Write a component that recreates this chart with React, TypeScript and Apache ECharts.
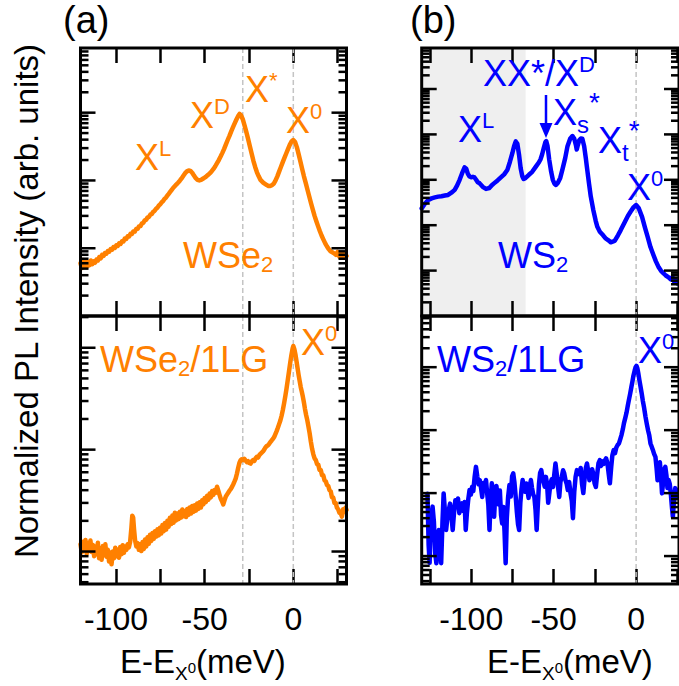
import React, { useEffect, useRef } from 'react';
import * as echarts from 'echarts';

// ---------------- data (energy relative to X0 in meV, normalized PL intensity) ----------------
const wse2Spectrum: [number, number][] = [
  [-120, 0.0060], [-119.3, 0.0051], [-118.6, 0.0067], [-117.9, 0.0054], [-117.2, 0.0064], [-116.5, 0.0053],
  [-115.8, 0.0062], [-115, 0.0056], [-114.2, 0.0066], [-113.4, 0.0058], [-112.6, 0.0064], [-111.8, 0.0061],
  [-111, 0.0068], [-110.2, 0.0066], [-109.4, 0.0074], [-108.6, 0.0071], [-107.8, 0.0080], [-107, 0.0077],
  [-106.2, 0.0085], [-105.4, 0.0083], [-104.6, 0.0091], [-103.8, 0.0089], [-103, 0.0097], [-102.2, 0.0095],
  [-101.4, 0.0104], [-100.6, 0.0101], [-99.8, 0.0110], [-99, 0.0108], [-98.2, 0.0118], [-97.4, 0.0116],
  [-96.6, 0.0127], [-95.8, 0.0126], [-95, 0.0139], [-94.2, 0.0137], [-93.4, 0.0150], [-92.6, 0.0149],
  [-91.8, 0.0163], [-91, 0.0162], [-90.2, 0.0177], [-89.4, 0.0176], [-88.6, 0.0192], [-87.8, 0.0193],
  [-87, 0.0210], [-86.2, 0.0212], [-85.4, 0.0232], [-84.6, 0.0236], [-83.8, 0.0257], [-83, 0.0262],
  [-82.2, 0.0284], [-81.4, 0.0290], [-80.6, 0.0313], [-79.8, 0.0320], [-79, 0.0345], [-78.2, 0.0356],
  [-77.4, 0.0383], [-76.6, 0.0397], [-75.8, 0.0428], [-75, 0.0445], [-74.2, 0.0478], [-73.4, 0.0498],
  [-72.6, 0.0535], [-71.8, 0.0560], [-71, 0.0602], [-70.2, 0.0635], [-69.4, 0.0683], [-68.6, 0.0722],
  [-67.8, 0.0775], [-67, 0.0815], [-66, 0.0870], [-65, 0.0925], [-64, 0.0990], [-63, 0.107], [-62, 0.117],
  [-61, 0.128], [-60, 0.136], [-59, 0.140], [-58, 0.138], [-57, 0.130], [-56, 0.118], [-55, 0.108],
  [-54, 0.102], [-53, 0.100], [-52, 0.102], [-51, 0.106], [-50, 0.110], [-49, 0.115], [-48, 0.121],
  [-47, 0.128], [-46, 0.137], [-45, 0.148], [-44, 0.162], [-43, 0.180], [-42, 0.200], [-41, 0.225],
  [-40, 0.255], [-39, 0.292], [-38, 0.340], [-37, 0.395], [-36, 0.455], [-35, 0.530], [-34, 0.610],
  [-33, 0.700], [-32, 0.800], [-31, 0.900], [-30.3, 0.96], [-29.5, 0.92], [-28.5, 0.80], [-27.5, 0.65],
  [-26.5, 0.52], [-25.5, 0.41], [-24.5, 0.32], [-23.5, 0.25], [-22.5, 0.195], [-21.5, 0.158], [-20.5, 0.132],
  [-19.5, 0.115], [-18.5, 0.102], [-17, 0.093], [-15.5, 0.087], [-14, 0.083], [-13, 0.083], [-12, 0.085],
  [-11, 0.090], [-10, 0.100], [-9, 0.115], [-8, 0.135], [-7, 0.158], [-6, 0.185], [-5, 0.215], [-4, 0.250],
  [-3, 0.290], [-2, 0.335], [-1, 0.375], [0, 0.395], [1, 0.37], [2, 0.31], [3, 0.245], [4, 0.19], [5, 0.148],
  [6, 0.115], [7, 0.092], [8, 0.073], [9, 0.058], [10, 0.046], [11, 0.037], [12, 0.030], [13, 0.025],
  [14, 0.021], [15, 0.0178], [16, 0.0153], [17, 0.0134], [18, 0.0118], [19, 0.0106], [20, 0.0097],
  [21, 0.0090], [22, 0.0087], [23, 0.0084], [24, 0.0080], [25, 0.0088], [26, 0.0075], [27, 0.0085],
  [28, 0.0073], [29, 0.0084], [30, 0.0077],
];

const wse2GrapheneSpectrum: [number, number][] = [
  [-120, 0.0118], [-119.3, 0.0098], [-118.6, 0.0125], [-117.9, 0.0103], [-117.2, 0.0130], [-116.5, 0.0095],
  [-115.8, 0.0121], [-115.1, 0.0101], [-114.4, 0.0128], [-113.7, 0.0099], [-113, 0.0116], [-112.3, 0.0090],
  [-111.6, 0.0112], [-110.9, 0.0094], [-110.2, 0.0122], [-109.5, 0.0086], [-108.8, 0.0108], [-108.1, 0.0083],
  [-107.4, 0.0113], [-106.7, 0.0092], [-106, 0.0118], [-105.3, 0.0089], [-104.6, 0.0104], [-103.9, 0.0080],
  [-103.2, 0.0098], [-102.5, 0.0075], [-101.8, 0.0100], [-101.1, 0.0086], [-100.4, 0.0109], [-99.7, 0.0090],
  [-99, 0.0104], [-98.3, 0.0087], [-97.6, 0.0111], [-96.9, 0.0094], [-96.2, 0.0115], [-95.5, 0.0097],
  [-94.8, 0.0112], [-94.1, 0.0104], [-93.4, 0.0118], [-92.7, 0.0110], [-92, 0.0125], [-91.3, 0.0170],
  [-90.8, 0.0225], [-90.3, 0.0215], [-89.8, 0.0165], [-89.2, 0.0128], [-88.5, 0.0112], [-87.8, 0.0121],
  [-87.1, 0.0104], [-86.4, 0.0118], [-85.7, 0.0101], [-85, 0.0124], [-84.3, 0.0106], [-83.6, 0.0131],
  [-82.9, 0.0112], [-82.2, 0.0138], [-81.5, 0.0119], [-80.8, 0.0146], [-80.1, 0.0127], [-79.4, 0.0152],
  [-78.7, 0.0133], [-78, 0.0158], [-77.3, 0.0140], [-76.6, 0.0165], [-75.9, 0.0144], [-75.2, 0.0171],
  [-74.5, 0.0150], [-73.8, 0.0182], [-73.1, 0.0158], [-72.4, 0.0190], [-71.7, 0.0164], [-71, 0.0200],
  [-70.3, 0.0175], [-69.6, 0.0214], [-68.9, 0.0186], [-68.2, 0.0226], [-67.5, 0.0192], [-66.8, 0.0240],
  [-66.1, 0.0202], [-65.4, 0.0236], [-64.7, 0.0208], [-64, 0.0245], [-63.3, 0.0215], [-62.6, 0.0258],
  [-61.9, 0.0222], [-61.2, 0.0250], [-60.5, 0.0218], [-59.8, 0.0262], [-59.1, 0.0229], [-58.4, 0.0271],
  [-57.7, 0.0236], [-57, 0.0280], [-56.3, 0.0245], [-55.6, 0.0284], [-54.9, 0.0252], [-54.2, 0.0296],
  [-53.5, 0.0262], [-52.8, 0.0305], [-52.1, 0.0270], [-51.4, 0.0318], [-50.7, 0.0290], [-50, 0.0335],
  [-49.3, 0.0305], [-48.6, 0.0352], [-47.9, 0.0322], [-47.2, 0.0370], [-46.5, 0.0340], [-45.8, 0.0392],
  [-45.1, 0.0360], [-44.4, 0.0402], [-43.7, 0.0378], [-43, 0.0432], [-42.3, 0.0395], [-41.6, 0.0360],
  [-40.9, 0.0330], [-40.2, 0.0312], [-39.5, 0.0290], [-38.8, 0.0318], [-38.1, 0.0345], [-37.4, 0.0362],
  [-36.7, 0.0378], [-36, 0.0395], [-35.3, 0.0410], [-34.6, 0.0430], [-33.9, 0.0455], [-33.2, 0.0485],
  [-32.5, 0.0520], [-31.8, 0.0580], [-31.1, 0.0660], [-30.4, 0.0740], [-29.7, 0.0790], [-29, 0.0805],
  [-28.3, 0.0790], [-27.6, 0.0812], [-26.9, 0.0780], [-26.2, 0.0755], [-25.5, 0.0770], [-24.8, 0.0740],
  [-24.1, 0.0730], [-23.4, 0.0768], [-22.7, 0.0790], [-22, 0.0775], [-21.3, 0.0820], [-20.6, 0.0850],
  [-19.9, 0.0835], [-19.2, 0.0880], [-18.5, 0.0910], [-17.8, 0.0935], [-17.1, 0.0960], [-16.4, 0.1000],
  [-15.7, 0.1050], [-15, 0.1085], [-14.3, 0.1100], [-13.6, 0.1140], [-12.9, 0.1190], [-12.2, 0.1230],
  [-11.5, 0.1275], [-10.8, 0.1330], [-10.1, 0.1420], [-9.4, 0.1520], [-8.7, 0.1640], [-8, 0.1780],
  [-7.3, 0.1930], [-6.6, 0.2150], [-5.9, 0.2450], [-5.2, 0.2850], [-4.5, 0.3350], [-3.8, 0.4000],
  [-3.1, 0.4850], [-2.4, 0.5900], [-1.7, 0.7200], [-1, 0.8600], [-0.4, 0.9800], [0, 1.04], [0.6, 0.97],
  [1.2, 0.86], [1.8, 0.74], [2.4, 0.63], [3, 0.54], [3.6, 0.47], [4.2, 0.41], [4.8, 0.37], [5.4, 0.33],
  [6, 0.29], [6.6, 0.25], [7.2, 0.22], [7.9, 0.194], [8.5, 0.17], [9.2, 0.145], [9.9, 0.120], [10.6, 0.102],
  [11.3, 0.090], [12, 0.082], [12.7, 0.079], [13.4, 0.072], [14.1, 0.071], [14.8, 0.063], [15.5, 0.063],
  [16.2, 0.056], [16.9, 0.056], [17.6, 0.050], [18.3, 0.049], [19, 0.045], [19.7, 0.044], [20.4, 0.040],
  [21.1, 0.039], [21.8, 0.034], [22.5, 0.034], [23.2, 0.030], [23.9, 0.030], [24.6, 0.027], [25.3, 0.026],
  [26, 0.024], [26.7, 0.024], [27.4, 0.022], [28.1, 0.026], [28.8, 0.0245], [29.5, 0.027], [30, 0.0255],
];

const ws2Spectrum: [number, number][] = [
  [-130, 0.0235], [-128, 0.030], [-126, 0.036], [-124, 0.039], [-122, 0.041], [-120, 0.0426], [-118, 0.0435],
  [-116, 0.045], [-114, 0.0464], [-112, 0.052], [-110, 0.060], [-108.5, 0.075], [-107, 0.100], [-105.5, 0.14],
  [-104, 0.188], [-103, 0.175], [-102, 0.135], [-101, 0.118], [-100, 0.114], [-99, 0.116], [-98, 0.1125],
  [-97, 0.100], [-96, 0.088], [-95, 0.0845], [-93, 0.070], [-91, 0.063], [-89, 0.066], [-87.5, 0.076],
  [-86, 0.0845], [-84, 0.097], [-82, 0.113], [-80, 0.132], [-78, 0.167], [-76.5, 0.25], [-75, 0.39],
  [-74, 0.55], [-73, 0.70], [-72, 0.62], [-71, 0.36], [-70, 0.18], [-69, 0.12], [-68.2, 0.104], [-67, 0.11],
  [-65, 0.129], [-63, 0.15], [-61, 0.19], [-59, 0.24], [-58, 0.28], [-57, 0.36], [-56, 0.50], [-55, 0.68],
  [-54.5, 0.71], [-53.7, 0.55], [-52.7, 0.28], [-51.5, 0.15], [-50.5, 0.10], [-49.5, 0.082], [-48.6, 0.077],
  [-47.5, 0.085], [-46, 0.11], [-44.7, 0.167], [-43, 0.30], [-41.6, 0.55], [-40, 0.80], [-38.6, 0.92],
  [-37.5, 0.80], [-36.5, 0.58], [-36, 0.464], [-35.5, 0.55], [-34.5, 0.74], [-33.5, 0.81], [-32.6, 0.80],
  [-31.5, 0.55], [-30.5, 0.30], [-29.9, 0.198], [-28.5, 0.08], [-27.5, 0.043], [-26, 0.022], [-24.5, 0.0125],
  [-23.5, 0.0092], [-22, 0.0072], [-20, 0.006], [-18.5, 0.0051], [-17, 0.0047], [-15.4, 0.0042], [-13, 0.0045],
  [-11, 0.0060], [-9.4, 0.0077], [-7, 0.0115], [-5, 0.016], [-3.4, 0.0198], [-1.5, 0.025], [0, 0.0278],
  [1.5, 0.024], [3.6, 0.0153], [5.5, 0.0085], [7, 0.0055], [8.7, 0.0033], [10.5, 0.0022], [12, 0.0016],
  [13.7, 0.00118], [15, 0.0010], [16.5, 0.00088], [18, 0.00078], [19.7, 0.00071], [21, 0.00064],
  [22, 0.00072], [23, 0.00058], [24, 0.00062], [25, 0.00052], [26, 0.00056],
];

const ws2GrapheneSpectrum: [number, number][] = [
  [-126.5, 0.0098], [-125.8, 0.0015], [-125.2, 0.00078], [-124.5, 0.0036], [-123.4, 0.0061], [-122.6, 0.0035],
  [-121.8, 0.0011], [-121.1, 0.00077], [-120.4, 0.0018], [-119.6, 0.0026], [-118.9, 0.0015], [-118.2, 0.00077],
  [-117.4, 0.0035], [-116.7, 0.0099], [-116, 0.0056], [-115.2, 0.0026], [-114.4, 0.0041], [-113.6, 0.0054],
  [-112.8, 0.0068], [-112, 0.0045], [-111.2, 0.0026], [-110.4, 0.0049], [-109.6, 0.0077], [-108.8, 0.0062],
  [-108, 0.0082], [-107.2, 0.0048], [-106.4, 0.0061], [-105.6, 0.0069], [-104.8, 0.0052], [-104, 0.0072],
  [-103.3, 0.0026], [-102.6, 0.0048], [-101.8, 0.0078], [-101, 0.0112], [-100.2, 0.0095], [-99.4, 0.0126],
  [-98.7, 0.0108], [-97.9, 0.0182], [-97.1, 0.0261], [-96.3, 0.0185], [-95.5, 0.0138], [-94.8, 0.0161],
  [-94, 0.0120], [-93.3, 0.0087], [-92.6, 0.0145], [-91.8, 0.0118], [-91, 0.0161], [-90.3, 0.0098],
  [-89.6, 0.0065], [-88.9, 0.0026], [-88.2, 0.0082], [-87.5, 0.0143], [-86.8, 0.0110], [-86.1, 0.0042],
  [-85.4, 0.0098], [-84.7, 0.0130], [-84, 0.0087], [-83.3, 0.0066], [-82.6, 0.0110], [-81.9, 0.0045],
  [-81.2, 0.0033], [-80.5, 0.0060], [-79.8, 0.0025], [-79.1, 0.00077], [-78.4, 0.0040], [-77.6, 0.0087],
  [-76.8, 0.0134], [-76, 0.0088], [-75.2, 0.0185], [-74.5, 0.0206], [-73.8, 0.0150], [-73, 0.0087],
  [-72.3, 0.0050], [-71.6, 0.0032], [-70.9, 0.0026], [-70.2, 0.0070], [-69.5, 0.0115], [-68.8, 0.0161],
  [-68.1, 0.0126], [-67.4, 0.0105], [-66.6, 0.0142], [-65.9, 0.0112], [-65.2, 0.0084], [-64.5, 0.0130],
  [-63.8, 0.0161], [-63.1, 0.0120], [-62.4, 0.0095], [-61.7, 0.0087], [-61, 0.0055], [-60.3, 0.0026],
  [-59.6, 0.0064], [-58.9, 0.0140], [-58.2, 0.0210], [-57.5, 0.0232], [-56.8, 0.0175], [-56.1, 0.0150],
  [-55.4, 0.0126], [-54.7, 0.0181], [-54, 0.0140], [-53.3, 0.0070], [-52.6, 0.0100], [-51.9, 0.0143],
  [-51.2, 0.0165], [-50.4, 0.0125], [-49.6, 0.0200], [-48.9, 0.0296], [-48.2, 0.0210], [-47.4, 0.0130],
  [-46.6, 0.0087], [-45.9, 0.0150], [-45.1, 0.0180], [-44.3, 0.0230], [-43.6, 0.0206], [-42.8, 0.0160],
  [-42.1, 0.0140], [-41.4, 0.0112], [-40.6, 0.0150], [-39.8, 0.0100], [-39, 0.0075], [-38.3, 0.0040],
  [-37.5, 0.0105], [-36.7, 0.0181], [-35.9, 0.0232], [-35.2, 0.0205], [-34.4, 0.0200], [-33.6, 0.0250],
  [-32.8, 0.0140], [-32, 0.0100], [-31.2, 0.0175], [-30.5, 0.0250], [-29.8, 0.0296], [-29, 0.0220],
  [-28.3, 0.0160], [-27.5, 0.0181], [-26.7, 0.0240], [-25.9, 0.0200], [-25.2, 0.0143], [-24.4, 0.0125],
  [-23.6, 0.0200], [-22.8, 0.0300], [-22, 0.0334], [-21.3, 0.0270], [-20.5, 0.0320], [-19.7, 0.0290],
  [-18.9, 0.0330], [-18.2, 0.0356], [-17.4, 0.0300], [-16.6, 0.0200], [-15.9, 0.0143], [-15.1, 0.0260],
  [-14.4, 0.0400], [-13.6, 0.0482], [-12.8, 0.0430], [-12, 0.0530], [-11.2, 0.0580], [-10.4, 0.0615],
  [-9.6, 0.0720], [-8.8, 0.0850], [-8, 0.1050], [-7.4, 0.128], [-6.6, 0.155], [-5.8, 0.190], [-5.1, 0.240],
  [-4.4, 0.299], [-3.6, 0.380], [-2.9, 0.480], [-2.2, 0.600], [-1.6, 0.740], [-0.9, 0.880], [-0.3, 1.00],
  [0.2, 1.05], [0.8, 0.95], [1.4, 0.78], [2, 0.62], [2.7, 0.487], [3.4, 0.38], [4.1, 0.29], [4.8, 0.230],
  [5.7, 0.163], [6.5, 0.125], [7.3, 0.098], [8, 0.082], [8.7, 0.0615], [9.4, 0.055], [10.1, 0.0490],
  [10.9, 0.042], [11.7, 0.0377], [12.4, 0.0250], [13, 0.0160], [13.7, 0.0261], [14.4, 0.0310], [15, 0.0200],
  [15.7, 0.0099], [16.4, 0.0150], [17.1, 0.0240], [17.7, 0.0261], [18.4, 0.0190], [19, 0.0120],
  [19.7, 0.0161], [20.4, 0.0140], [21, 0.0100], [21.7, 0.0060], [22.3, 0.0042], [23, 0.0080], [23.7, 0.0120],
  [24.4, 0.0112], [25, 0.0090], [25.7, 0.0105], [26, 0.0095],
];

const xTicksWSe2 = [-100, -75, -50, -25, 0, 25];
const xTicksWS2 = [-125, -100, -75, -50, -25, 0, 25];
const xTickLabels = [-100, -50, 0];
const wse2MarkerLines = [-28.5, 0];
const ws2MarkerLines = [0];
const ws2ShadedRange = [-130, -67];

// ---------------- styling ----------------
const ORANGE = '#ff8000';
const BLUE = '#0000ff';
const FONT = '"Liberation Sans", Arial, Helvetica, sans-serif';

type Panel = {
  left: number; top: number; width: number; height: number;
  xMin: number; xMax: number; yMin: number; yMax: number;
  data: [number, number][]; color: string; markers: number[]; ticks: number[];
  showLabels: boolean; shade?: number[];
};

const panels: Panel[] = [
  { left: 80.5, top: 48, width: 266, height: 268, xMin: -120, xMax: 30, yMin: 0.001, yMax: 9,
    data: wse2Spectrum, color: ORANGE, markers: wse2MarkerLines, ticks: xTicksWSe2, showLabels: false },
  { left: 80.5, top: 316, width: 266, height: 268, xMin: -120, xMax: 30, yMin: 0.0048, yMax: 2.05,
    data: wse2GrapheneSpectrum, color: ORANGE, markers: wse2MarkerLines, ticks: xTicksWSe2, showLabels: true },
  { left: 421.7, top: 48, width: 258.3, height: 268, xMin: -130, xMax: 26, yMin: 0.0001, yMax: 80,
    data: ws2Spectrum, color: BLUE, markers: ws2MarkerLines, ticks: xTicksWS2, showLabels: false, shade: ws2ShadedRange },
  { left: 421.7, top: 316, width: 258.3, height: 268, xMin: -130, xMax: 26, yMin: 0.00036, yMax: 6.5,
    data: ws2GrapheneSpectrum, color: BLUE, markers: ws2MarkerLines, ticks: xTicksWS2, showLabels: true },
];

function logTicks(min: number, max: number): [number, number][] {
  const out: [number, number][] = [];
  for (let k = Math.floor(Math.log10(min)); k <= Math.ceil(Math.log10(max)); k++) {
    for (let m = 1; m <= 9; m++) {
      const v = m * Math.pow(10, k);
      if (v > min * 1.0001 && v < max * 0.9999) out.push([v, m === 1 ? 1 : 0]);
    }
  }
  return out;
}

function richStyles(color: string) {
  return {
    m: { fontSize: 36, lineHeight: 40, fontFamily: FONT, fill: color },
    sup: { fontSize: 22, lineHeight: 22, verticalAlign: 'top', fontFamily: FONT, fill: color },
    sub: { fontSize: 22, lineHeight: 22, verticalAlign: 'bottom', fontFamily: FONT, fill: color },
    // for the X_s*, X_t* labels (deeper subscript, larger star)
    m2: { fontSize: 36, lineHeight: 48, fontFamily: FONT, fill: color },
    sub2: { fontSize: 24, lineHeight: 24, verticalAlign: 'bottom', fontFamily: FONT, fill: color },
    sup2: { fontSize: 28, lineHeight: 32, verticalAlign: 'top', fontFamily: FONT, fill: color },
  };
}

function rt(x: number, baseline: number, text: string, color: string) {
  return {
    type: 'text', x, y: baseline - 12.5, z: 100, silent: true,
    style: { text, rich: richStyles(color), fontSize: 36, fontFamily: FONT, fill: color, align: 'left', verticalAlign: 'middle' },
  };
}

function txt(x: number, baseline: number, text: string, fs: number, color: string) {
  return {
    type: 'text', x, y: baseline - 0.3465 * fs, z: 100, silent: true,
    style: { text, fontSize: fs, fontFamily: FONT, fill: color, align: 'left', verticalAlign: 'middle' },
  };
}

function axisTitle(x: number) {
  return {
    type: 'text', x, y: 673 - 0.3465 * 33, z: 100, silent: true,
    style: {
      text: '{t|E-E}{s|X}{ss|0}{t|(meV)}', fill: '#000', fontSize: 33, fontFamily: FONT,
      align: 'left', verticalAlign: 'middle',
      rich: {
        t: { fontSize: 33, lineHeight: 42, fontFamily: FONT, fill: '#000' },
        s: { fontSize: 19, lineHeight: 19, verticalAlign: 'bottom', fontFamily: FONT, fill: '#000' },
        ss: { fontSize: 15, lineHeight: 15, verticalAlign: 'middle', padding: [12, 0, 0, 0], fontFamily: FONT, fill: '#000' },
      },
    },
  };
}

function buildOption() {
  const grid: any[] = [];
  const xAxis: any[] = [];
  const yAxis: any[] = [];
  const series: any[] = [];

  panels.forEach((p, i) => {
    grid.push({ left: p.left, top: p.top, width: p.width, height: p.height, show: true,
      borderColor: '#000', borderWidth: 3, backgroundColor: 'transparent', z: 10 });
    const tickStyle = { show: true, inside: true, length: 15, customValues: p.ticks, lineStyle: { color: '#000', width: 2.5 } };
    xAxis.push({
      type: 'value', gridIndex: i, min: p.xMin, max: p.xMax, position: 'bottom',
      axisLine: { show: false }, splitLine: { show: false }, axisTick: tickStyle,
      axisLabel: { show: p.showLabels, customValues: xTickLabels, fontSize: 32, fontFamily: FONT, color: '#000', margin: 19 },
    });
    xAxis.push({
      type: 'value', gridIndex: i, min: p.xMin, max: p.xMax, position: 'top',
      axisLine: { show: false }, splitLine: { show: false }, axisTick: tickStyle, axisLabel: { show: false },
    });
    yAxis.push({
      type: 'log', logBase: 10, gridIndex: i, min: p.yMin, max: p.yMax,
      axisLine: { show: false }, axisTick: { show: false }, axisLabel: { show: false }, splitLine: { show: false },
    });

    if (p.shade) {
      const shade = p.shade;
      series.push({
        type: 'custom', xAxisIndex: 2 * i, yAxisIndex: i, silent: true, z: 0,
        data: [[shade[0], p.yMax, shade[1], p.yMin]],
        renderItem: (_params: any, api: any) => {
          const a = api.coord([api.value(0), api.value(1)]);
          const b = api.coord([api.value(2), api.value(3)]);
          return { type: 'rect', shape: { x: a[0] + 1.5, y: a[1] + 1.5, width: b[0] - a[0] - 1.5, height: b[1] - a[1] - 3 },
            style: { fill: '#efefef' } };
        },
      });
    }

    series.push({
      type: 'custom', xAxisIndex: 2 * i, yAxisIndex: i, silent: true, z: 1,
      data: p.markers.map((m) => [m, p.yMin, p.yMax]),
      renderItem: (_params: any, api: any) => {
        const a = api.coord([api.value(0), api.value(2)]);
        const b = api.coord([api.value(0), api.value(1)]);
        return { type: 'line', shape: { x1: a[0], y1: a[1], x2: b[0], y2: b[1] },
          style: { stroke: '#c4c4c4', lineWidth: 1.5, lineDash: [5, 3] } };
      },
    });

    series.push({
      type: 'line', xAxisIndex: 2 * i, yAxisIndex: i, data: p.data, showSymbol: false, symbol: 'none',
      silent: true, z: 3, clip: true,
      lineStyle: { color: p.color, width: 4.5, join: 'round', cap: 'round' },
    });

    series.push({
      type: 'custom', xAxisIndex: 2 * i, yAxisIndex: i, silent: true, z: 5,
      data: logTicks(p.yMin, p.yMax).map(([v, major]) => [p.xMin, v, major, p.xMax]),
      renderItem: (_params: any, api: any) => {
        const l = api.coord([api.value(0), api.value(1)]);
        const r = api.coord([api.value(3), api.value(1)]);
        const len = api.value(2) ? 15 : 8;
        const st = { stroke: '#000', lineWidth: 2.5 };
        return { type: 'group', children: [
          { type: 'line', shape: { x1: l[0], y1: l[1], x2: l[0] + len, y2: l[1] }, style: st },
          { type: 'line', shape: { x1: r[0] - len, y1: r[1], x2: r[0], y2: r[1] }, style: st },
        ] };
      },
    });
  });

  const graphic: any[] = [
    txt(63, 32.7, '(a)', 38, '#000'),
    txt(410, 32.7, '(b)', 38, '#000'),
    {
      type: 'text', x: 26, y: 301, rotation: Math.PI / 2, silent: true, z: 100,
      style: { text: 'Normalized PL Intensity (arb. units)', fontSize: 33, fontFamily: FONT, fill: '#000', align: 'center', verticalAlign: 'middle' },
    },
    axisTitle(120),
    axisTitle(487),
    // WSe2 labels
    rt(135, 170, '{m|X}{sup|L}', ORANGE),
    rt(190, 128, '{m|X}{sup|D}', ORANGE),
    rt(245, 102, '{m|X}{sup|*}', ORANGE),
    rt(286, 133, '{m|X}{sup|0}', ORANGE),
    rt(183, 268, '{m|WSe}{sub|2}', ORANGE),
    rt(100, 372, '{m|WSe}{sub|2}{m|/1LG}', ORANGE),
    rt(301, 355, '{m|X}{sup|0}', ORANGE),
    // WS2 labels
    rt(458, 142, '{m|X}{sup|L}', BLUE),
    rt(483, 86, '{m|XX*/X}{sup|D}', BLUE),
    rt(553, 125, '{m2|X}{sub2|s}{sup2|*}', BLUE),
    rt(598, 153, '{m2|X}{sub2|t}{sup2|*}', BLUE),
    rt(627, 200, '{m|X}{sup|0}', BLUE),
    rt(498, 268, '{m|WS}{sub|2}', BLUE),
    rt(437, 372, '{m|WS}{sub|2}{m|/1LG}', BLUE),
    rt(638, 363, '{m|X}{sup|0}', BLUE),
    // arrow to the XX*/XD peak
    { type: 'line', silent: true, z: 100, shape: { x1: 546, y1: 95, x2: 546, y2: 126 }, style: { stroke: BLUE, lineWidth: 2.5 } },
    { type: 'polygon', silent: true, z: 100, shape: { points: [[539.5, 123], [552.5, 123], [546, 138]] }, style: { fill: BLUE } },
  ];

  return { animation: false, backgroundColor: '#fff', grid, xAxis, yAxis, series, graphic };
}

export default function App() {
  const ref = useRef<HTMLDivElement>(null);
  useEffect(() => {
    document.body.style.margin = '0';
    const chart = echarts.init(ref.current!, null, { renderer: 'svg' });
    chart.setOption(buildOption() as any);
    return () => chart.dispose();
  }, []);
  return <div ref={ref} style={{ width: 679, height: 686 }} />;
}
